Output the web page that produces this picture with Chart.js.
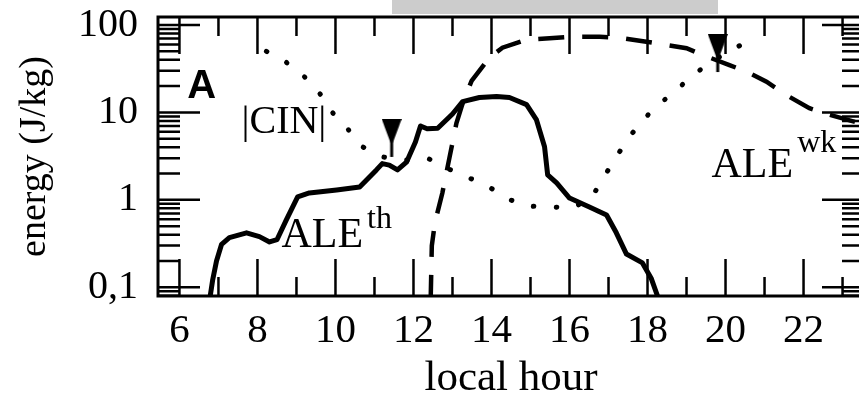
<!DOCTYPE html>
<html>
<head>
<meta charset="utf-8">
<script src="https://cdn.jsdelivr.net/npm/chart.js@4.4.1/dist/chart.umd.min.js"></script>
<style>
  html, body { margin: 0; padding: 0; background: #fff; overflow: hidden; }
  #wrap { position: relative; width: 870px; height: 396px; }
  #chart { display: block; }
  #topbar { position: absolute; left: 392px; top: 0; width: 326px; height: 14px; background: #cccccc; }
</style>
</head>
<body>
<div id="wrap">
  <canvas id="chart" width="870" height="396"></canvas>
  <div id="topbar"></div>
</div>
<script>
// local hour vs energy (J/kg)
const aleThHours = [6.77, 6.85, 6.95, 7.08, 7.28, 7.72, 8.05, 8.31, 8.5, 8.74, 9.03, 9.33, 10.03, 10.62, 11.05, 11.2, 11.38, 11.59, 11.82, 12.05, 12.18, 12.35, 12.62, 13.0, 13.26, 13.69, 14.13, 14.46, 14.9, 15.15, 15.36, 15.44, 15.67, 16.0, 16.51, 16.95, 17.2, 17.46, 17.87, 18.1, 18.3];
const aleThValues = [0.07, 0.12, 0.2, 0.31, 0.37, 0.42, 0.38, 0.33, 0.35, 0.59, 1.08, 1.2, 1.3, 1.4, 2.2, 2.6, 2.5, 2.2, 2.7, 4.6, 7.0, 6.5, 6.6, 9.6, 13.3, 14.8, 15.2, 14.8, 12.3, 8.3, 4.05, 1.93, 1.56, 1.05, 0.83, 0.67, 0.42, 0.24, 0.19, 0.125, 0.07];

const cinHours = [8.23, 8.74, 9.23, 9.62, 9.92, 10.33, 10.69, 11.2, 11.8, 12.36, 12.86, 13.36, 13.87, 14.36, 14.9, 15.49, 16.08, 16.56, 16.85, 17.15, 17.46, 17.82, 18.23, 18.69, 19.13, 19.64, 20.1, 20.56];
const cinValues = [50, 37.4, 25, 16, 10, 6.35, 4.05, 3.1, 2.85, 3.0, 2.3, 1.83, 1.48, 1.05, 0.85, 0.83, 0.81, 1.05, 1.73, 2.87, 4.7, 7.7, 11.7, 17.3, 25.8, 38.4, 50, 65];

const aleWkHours = [12.44, 12.47, 12.55, 12.74, 12.92, 13.1, 13.25, 13.49, 13.95, 14.28, 14.9, 15.49, 16.08, 16.77, 17.28, 17.97, 18.49, 19.0, 19.41, 20.1, 20.54, 21.05, 21.56, 22.15, 22.67, 23.6];
const aleWkValues = [0.07, 0.3, 0.55, 1.2, 3.0, 7.5, 12.3, 23, 42.5, 55, 68, 70.5, 73.5, 73.5, 71.6, 64.4, 59.2, 54.3, 45.5, 34.8, 29.3, 22.5, 15.8, 11.2, 9.4, 7.2];

const markerHours = [11.44, 19.8];
const markerValues = [3.1, 29];

const xTickValues = [6, 8, 10, 12, 14, 16, 18, 20, 22];
const xMinorValues = [7, 9, 11, 13, 15, 17, 19, 21, 23];
const yTickValues = [0.1, 1, 10, 100];
const yTickLabels = ['0,1', '1', '10', '100'];

const SERIF = '"Liberation Serif", "Times New Roman", serif';

function pairs(xs, ys) {
    return xs.map((x, i) => ({x: x, y: ys[i]}));
}

// narrow down-pointing triangle with a short stem; tip of the stem sits on the point
function makeMarker() {
    const c = document.createElement('canvas');
    c.width = 20;
    c.height = 76;
    const g = c.getContext('2d');
    g.fillStyle = '#000';
    g.beginPath();
    g.moveTo(0, 0);
    g.lineTo(20, 0);
    g.lineTo(10, 27);
    g.closePath();
    g.fill();
    g.fillRect(8.5, 18, 3, 20);
    return c;
}

// box frame with inward ticks on all four sides
const framePlugin = {
    id: 'frame',
    beforeDatasetsDraw(chart) {
        const {ctx, chartArea: a, scales: {x, y}} = chart;
        ctx.save();
        ctx.strokeStyle = '#000';
        ctx.lineWidth = 2.5;
        ctx.beginPath();
        const vtick = (v, len) => {
            const px = x.getPixelForValue(v);
            ctx.moveTo(px, a.bottom); ctx.lineTo(px, a.bottom - len);
            ctx.moveTo(px, a.top); ctx.lineTo(px, a.top + len);
        };
        xTickValues.forEach(v => vtick(v, 37));
        xMinorValues.forEach(v => vtick(v, 19));
        const htick = (v, len) => {
            const py = y.getPixelForValue(v);
            ctx.moveTo(a.left, py); ctx.lineTo(a.left + len, py);
            ctx.moveTo(a.right, py); ctx.lineTo(a.right - len, py);
        };
        yTickValues.forEach(v => htick(v, 42));
        [0.01, 0.1, 1, 10, 100].forEach(d => {
            for (let m = 2; m <= 9; m++) {
                const v = m * d;
                if (v > y.min && v < y.max) htick(v, 22);
            }
        });
        ctx.stroke();
        ctx.lineWidth = 3;
        ctx.strokeRect(a.left, a.top, a.right - a.left, a.bottom - a.top);
        ctx.restore();
    }
};

// curve labels, anchored in data coordinates
const labelPlugin = {
    id: 'curveLabels',
    afterDatasetsDraw(chart) {
        const {ctx, scales: {x, y}} = chart;
        ctx.save();
        ctx.fillStyle = '#000';
        ctx.textBaseline = 'alphabetic';
        ctx.textAlign = 'left';

        ctx.font = 'bold 40px "Liberation Sans", Arial, sans-serif';
        ctx.fillText('A', x.getPixelForValue(6.2), y.getPixelForValue(14.6));

        ctx.font = '40px ' + SERIF;
        ctx.fillText('|CIN|', x.getPixelForValue(7.59), y.getPixelForValue(5.82));

        const sup = (base, top, hx, vy, dy) => {
            const px = x.getPixelForValue(hx);
            const py = y.getPixelForValue(vy);
            ctx.font = '42px ' + SERIF;
            ctx.fillText(base, px, py);
            const w = ctx.measureText(base).width;
            ctx.font = '32px ' + SERIF;
            ctx.fillText(top, px + w + 4, py - dy);
        };
        sup('ALE', 'th', 8.615, 0.289, 19);
        sup('ALE', 'wk', 19.64, 1.83, 25);
        ctx.restore();
    }
};

new Chart(document.getElementById('chart'), {
    type: 'line',
    data: {
        datasets: [
            {
                label: 'markers',
                data: pairs(markerHours, markerValues),
                showLine: false,
                pointStyle: makeMarker(),
                pointRadius: 2,
                borderColor: '#000',
                backgroundColor: '#000'
            },
            {
                label: 'ALE th',
                data: pairs(aleThHours, aleThValues),
                borderColor: '#000',
                borderWidth: 5,
                borderJoinStyle: 'round',
                pointRadius: 0,
                tension: 0
            },
            {
                label: '|CIN|',
                data: pairs(cinHours, cinValues),
                borderColor: '#000',
                borderWidth: 5,
                borderDash: [0.5, 22.5],
                borderCapStyle: 'round',
                pointRadius: 0,
                tension: 0
            },
            {
                label: 'ALE wk',
                data: pairs(aleWkHours, aleWkValues),
                borderColor: '#000',
                borderWidth: 4.5,
                borderDash: [26, 18],
                pointRadius: 0,
                tension: 0
            }
        ]
    },
    options: {
        responsive: false,
        animation: false,
        // the frame's right edge falls just outside the 859px window
        layout: { autoPadding: false, padding: { top: 17, right: 6, left: 0, bottom: 0 } },
        plugins: {
            legend: { display: false },
            tooltip: { enabled: false }
        },
        scales: {
            x: {
                type: 'linear',
                position: 'bottom',
                min: 5.45,
                max: 23.55,
                bounds: 'data',
                grid: { display: false, drawTicks: false },
                border: { display: false },
                afterBuildTicks: s => { s.ticks = xTickValues.map(v => ({value: v})); },
                afterFit: s => {
                    s.height = 100;
                    s.paddingLeft = 0;
                    s.paddingRight = 0;
                },
                ticks: {
                    autoSkip: false,
                    maxRotation: 0,
                    padding: 11,
                    color: '#000',
                    font: { family: SERIF, size: 41 }
                },
                title: {
                    display: true,
                    text: 'local hour',
                    color: '#000',
                    padding: 0,
                    font: { family: SERIF, size: 43, lineHeight: 0.8 }
                }
            },
            y: {
                type: 'logarithmic',
                min: 0.0795,
                max: 123.5,
                bounds: 'data',
                grid: { display: false, drawTicks: false },
                border: { display: false },
                afterBuildTicks: s => { s.ticks = yTickValues.map(v => ({value: v})); },
                afterFit: s => {
                    s.width = 158;
                    s.paddingTop = 0;
                    s.paddingBottom = 0;
                },
                ticks: {
                    padding: 20,
                    color: '#000',
                    font: { family: SERIF, size: 40 },
                    callback: v => yTickLabels[yTickValues.indexOf(v)]
                },
                title: {
                    display: true,
                    text: 'energy (J/kg)',
                    color: '#000',
                    padding: { top: 12, bottom: 0 },
                    font: { family: SERIF, size: 38 }
                }
            }
        }
    },
    plugins: [framePlugin, labelPlugin]
});
</script>
</body>
</html>
